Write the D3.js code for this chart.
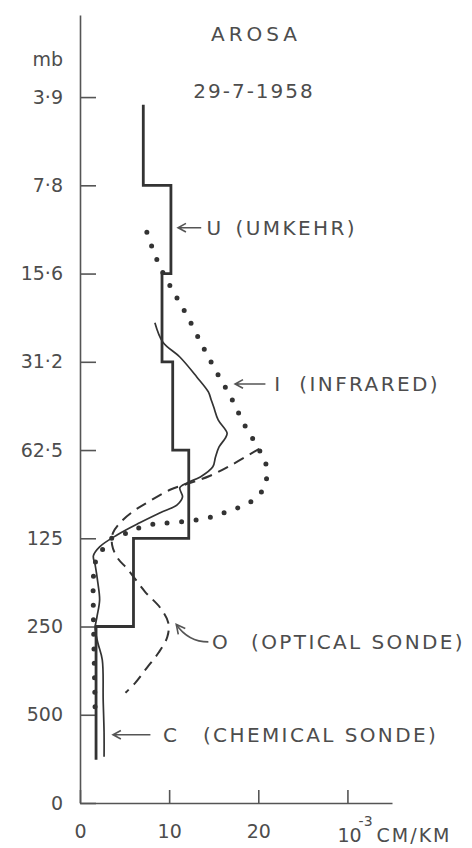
<!DOCTYPE html>
<html>
<head>
<meta charset="utf-8">
<script src="https://cdn.jsdelivr.net/npm/d3@7"></script>
<style>
  body { margin: 0; background: #fff; }
  svg text { font-family: "DejaVu Sans", sans-serif; fill: #4d4d4d; }
</style>
</head>
<body>
<script>
const width = 472, height = 848;

// pressure levels on the left axis (mb), each one twice the one above
const pressureTicks = [3.90625, 7.8125, 15.625, 31.25, 62.5, 125, 250, 500, 1000];
const pressureLabels = ["3·9", "7·8", "15·6", "31·2", "62·5", "125", "250", "500", "0"];

// ozone density ticks, 10^-3 cm/km
const densityTicks = [0, 10, 20, 30];
const densityLabels = ["0", "10", "20", ""];

// U : Umkehr, one mean value per layer between the bounds
const umkehrBounds = [4.15, 7.8125, 15.625, 31.25, 62.5, 125, 250, 712];
const umkehrValues = [7.1, 10.2, 9.2, 10.4, 12.2, 6.0, 1.8];

// I : infrared
const infraredP = [11.3, 13.0, 15.1, 18.3, 22.0, 27.8, 33.8, 41.1, 50.9, 62.4, 70.8, 81.5, 90.3, 96.9,
  100.7, 104.8, 108.1, 110.7, 111.6, 115.2, 119.8, 124.6, 136.9, 151.6, 170.5, 222.8, 332.6, 492.3];
const infraredV = [7.5, 8.2, 9.1, 10.6, 12.1, 13.8, 15.3, 16.9, 18.4, 20.1, 20.9, 20.8, 19.9, 18.3,
  16.7, 15.2, 13.1, 10.0, 8.4, 6.6, 5.3, 3.6, 2.5, 1.7, 1.5, 1.5, 1.6, 1.7];

// O : optical sonde
const opticalP = [61.9, 69.7, 76.5, 80.9, 85.4, 94.6, 100.0, 109.0, 119.8, 131.6,
  145.7, 160.1, 190.3, 215.8, 242.8, 271.1, 307.3, 345.8, 389.0, 420.8];
const opticalV = [20.1, 17.2, 14.6, 12.4, 10.1, 7.5, 6.2, 4.7, 3.7, 3.6,
  4.2, 5.4, 7.3, 9.0, 9.9, 9.8, 8.8, 7.5, 6.2, 5.1];

// C : chemical sonde
const chemicalP = [23.0, 26.8, 30.1, 35.2, 39.6, 42.0, 44.6, 49.3, 54.7, 56.9,
  61.0, 66.0, 71.3, 77.2, 80.9, 84.1, 90.3, 96.1, 102.3, 110.7,
  121.6, 133.7, 143.5, 154, 177, 203, 232, 253, 284, 325, 445, 576, 696];
const chemicalV = [8.4, 9.3, 11.2, 13.1, 14.4, 14.7, 15.0, 15.5, 16.5, 16.3,
  15.6, 15.2, 14.9, 13.5, 12.0, 11.2, 11.5, 10.9, 9.0, 6.7,
  4.2, 2.2, 1.5, 1.7, 2.0, 2.2, 1.9, 1.7, 2.0, 2.5, 2.6, 2.7, 2.7];

const svg = d3.select("body").append("svg")
  .attr("width", width)
  .attr("height", height);

svg.append("rect").attr("width", width).attr("height", height).attr("fill", "#fff");

const x = d3.scaleLinear().domain([0, 35]).range([80, 392]);
const y = d3.scaleLog().domain([2.05, 1000]).range([15, 803]);

// axes: ticks point inwards, labels outside
const yAxis = svg.append("g")
  .attr("transform", "translate(80,0)")
  .call(d3.axisLeft(y)
    .tickValues(pressureTicks)
    .tickFormat((d, i) => pressureLabels[i])
    .tickSizeInner(-16)
    .tickSizeOuter(0)
    .tickPadding(17));

const xAxis = svg.append("g")
  .attr("transform", "translate(0,803)")
  .call(d3.axisBottom(x)
    .tickValues(densityTicks)
    .tickFormat((d, i) => densityLabels[i])
    .tickSizeInner(-13)
    .tickSizeOuter(0)
    .tickPadding(22));

[yAxis, xAxis].forEach(g => {
  g.attr("font-family", null).attr("font-size", null);
  g.select(".domain").attr("stroke", "#555").attr("stroke-width", 1.6);
  g.selectAll(".tick line").attr("stroke", "#555").attr("stroke-width", 1.6);
  g.selectAll(".tick text").attr("font-size", 19).attr("fill", "#4d4d4d");
  g.selectAll(".tick text").filter(function () { return this.textContent === ""; }).remove();
});

// unit label sits under the last tick
svg.append("text")
  .attr("x", x(30) - 10)
  .attr("y", 842)
  .attr("font-size", 19)
  .call(t => {
    t.append("tspan").text("10");
    t.append("tspan").attr("dx", -3).attr("dy", -16).attr("font-size", 14).text("-3");
    t.append("tspan").attr("dx", 4).attr("dy", 16).attr("letter-spacing", 2).text("CM/KM");
  });

svg.append("text")
  .attr("x", 63).attr("y", 66)
  .attr("text-anchor", "end")
  .attr("font-size", 19)
  .text("mb");

svg.append("text")
  .attr("x", 256).attr("y", 41)
  .attr("text-anchor", "middle")
  .attr("font-size", 20)
  .attr("letter-spacing", 4)
  .text("AROSA");

svg.append("text")
  .attr("x", 254).attr("y", 98)
  .attr("text-anchor", "middle")
  .attr("font-size", 20)
  .attr("letter-spacing", 2)
  .text("29-7-1958");

const profile = d3.line()
  .x(d => x(d[1]))
  .y(d => y(d[0]))
  .curve(d3.curveCatmullRom.alpha(0.5));

const umkehr = umkehrValues.flatMap((v, i) => [[umkehrBounds[i], v], [umkehrBounds[i + 1], v]]);

svg.append("path")
  .datum(umkehr)
  .attr("d", profile.curve(d3.curveLinear))
  .attr("fill", "none")
  .attr("stroke", "#333")
  .attr("stroke-width", 2.8);

profile.curve(d3.curveCatmullRom.alpha(0.5));

svg.append("path")
  .datum(d3.zip(chemicalP, chemicalV))
  .attr("d", profile)
  .attr("fill", "none")
  .attr("stroke", "#333")
  .attr("stroke-width", 1.7);

svg.append("path")
  .datum(d3.zip(opticalP, opticalV))
  .attr("d", profile)
  .attr("fill", "none")
  .attr("stroke", "#333")
  .attr("stroke-width", 2)
  .attr("stroke-dasharray", "11,7");

svg.append("path")
  .datum(d3.zip(infraredP, infraredV))
  .attr("d", profile)
  .attr("fill", "none")
  .attr("stroke", "#333")
  .attr("stroke-width", 5)
  .attr("stroke-linecap", "round")
  .attr("stroke-dasharray", "0,14.5");

// labels with arrows pointing at each curve
function arrow(x1, y1, x2, y2) {
  // tail at (x1,y1), tip at (x2,y2)
  const a = Math.atan2(y1 - y2, x1 - x2), h = 9;
  svg.append("path")
    .attr("d", `M${x1},${y1}L${x2},${y2}` +
      `M${x2 + h * Math.cos(a - 0.5)},${y2 + h * Math.sin(a - 0.5)}L${x2},${y2}` +
      `L${x2 + h * Math.cos(a + 0.5)},${y2 + h * Math.sin(a + 0.5)}`)
    .attr("fill", "none")
    .attr("stroke", "#555")
    .attr("stroke-width", 1.6);
}

function label(tx, ty, key, name, keyFont, gap) {
  svg.append("text")
    .attr("x", tx).attr("y", ty + 7)
    .attr("font-size", 20)
    .attr("font-family", keyFont || null)
    .text(key);
  svg.append("text")
    .attr("x", tx + gap).attr("y", ty + 7)
    .attr("font-size", 20)
    .attr("letter-spacing", 2.4)
    .text(name);
}

// U
const uy = y(10.9);
arrow(x(13.6), uy, x(11.0), uy);
label(x(14.2), uy, "U", "(UMKEHR)", null, 29);

// I
const iy = y(37.2);
arrow(x(20.8), iy, x(17.4), iy);
label(x(21.8), iy, "I", "(INFRARED)", "DejaVu Sans Mono", 25);

// O, curved arrow
const oTip = [x(10.8), y(246)], oEnd = [x(14.4), y(282)];
svg.append("path")
  .attr("d", `M${oEnd[0]},${oEnd[1]}Q${oTip[0] + 12},${oEnd[1]} ${oTip[0]},${oTip[1]}`)
  .attr("fill", "none").attr("stroke", "#555").attr("stroke-width", 1.6);
svg.append("path")
  .attr("d", `M${oTip[0] + 2},${oTip[1] + 10}L${oTip[0]},${oTip[1]}L${oTip[0] + 9},${oTip[1] + 4}`)
  .attr("fill", "none").attr("stroke", "#555").attr("stroke-width", 1.6);
label(x(15.7) - 8, oEnd[1], "O", "(OPTICAL SONDE)", null, 39);

// C
const cy = y(585);
arrow(x(7.9), cy, x(3.7), cy);
label(x(9.3), cy, "C", "(CHEMICAL SONDE)", null, 40);
</script>
</body>
</html>
